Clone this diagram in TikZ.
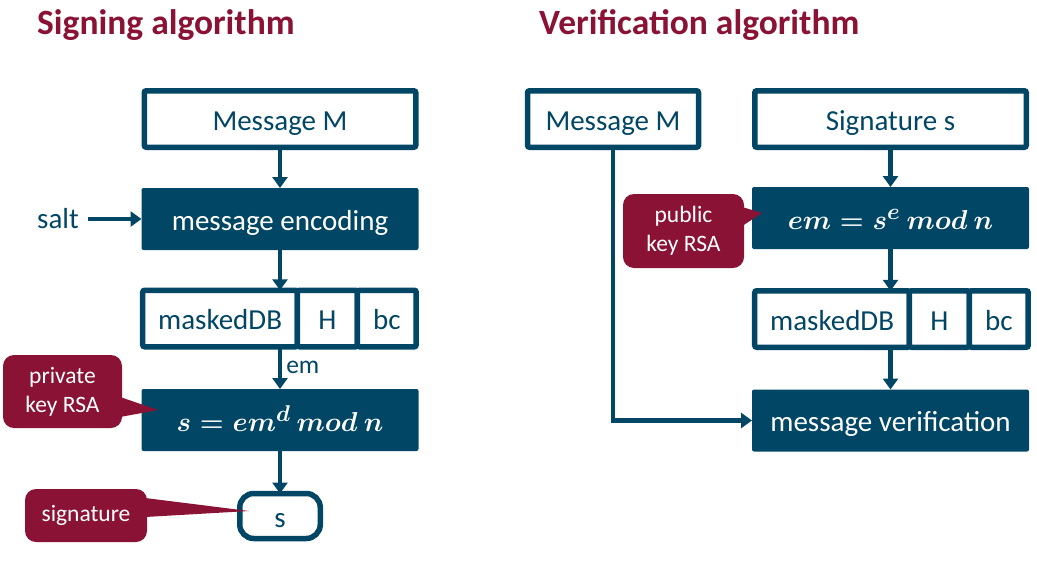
\documentclass[tikz,border=0pt]{standalone}
\usepackage{fontspec}
\setmainfont{Carlito}
\usetikzlibrary{arrows.meta,positioning}
\definecolor{rsablue}{RGB}{2,70,101}
\definecolor{rsared}{RGB}{138,19,53}
\newcommand{\rsamath}[1]{\scalebox{1.1}{\fontsize{24.88}{28}\selectfont\boldmath$#1$}}
\tikzset{
  box/.style={draw=rsablue, line width=5.5pt, fill=white, text=rsablue, rounded corners=2pt, inner sep=0pt, outer sep=0pt, minimum height=56.5pt, text height=25pt, text depth=2.5pt, font=\fontsize{29}{32}\selectfont},
  solidbox/.style={fill=rsablue, text=white, rounded corners=2pt, inner sep=0pt, outer sep=0pt, minimum height=62pt, minimum width=277pt, text height=25pt, text depth=2.5pt, font=\fontsize{29}{32}\selectfont},
  bubble/.style={fill=rsared, text=white, rounded corners=11pt, align=center, inner sep=0pt, font=\fontsize{23.5}{29}\selectfont},
  heading/.style={text=rsared, anchor=base west, inner sep=0pt, font=\fontsize{35.5}{42}\selectfont\bfseries},
  flow/.style={draw=rsablue, line width=4.5pt, -{Triangle[length=11pt,width=15pt]}}
}

\begin{document}
\begin{tikzpicture}[x=1pt, y=-1pt]
	\useasboundingbox (0,0) rectangle (1037,566);
	\node[heading] (titleL) at (37,34) {Signing algorithm};
	\node[heading] (titleR) at (539,34) {Verification algorithm};
	% signing
	\node[box, minimum width=271.5] (msgL) at (280,119) {Message M};
	\node[solidbox] (encL) at (280,219) {message encoding};
	\node[box, minimum width=154.75] (mdbL) at (220.1,318.5) {maskedDB};
	\node[box, minimum width=60, right=0pt of mdbL] (hL) {H};
	\node[box, minimum width=58.75, right=0pt of hL] (bcL) {bc};
	\node[solidbox] (signL) at (280,420) {\rsamath{s = em^{d}\ mod\ n}};
	\node[box, minimum width=80.5, minimum height=45, rounded corners=14pt] (sL) at (280,516) {s};
	\node[text=rsablue, font=\fontsize{29}{32}\selectfont] (salt) at (58,219) {salt};
	\draw[flow] (msgL) -- (encL);
	\draw[flow, shorten <=6pt] (salt) -- (encL);
	\draw[flow] (encL) -- (encL |- mdbL.north);
	\draw[flow] (encL |- mdbL.south) -- node[right, inner sep=4pt, text=rsablue, font=\fontsize{25.5}{28}\selectfont] (em) {em} (signL);
	\draw[flow] (signL) -- (sL);
	% verification
	\node[box, minimum width=171] (msgR) at (613,119) {Message M};
	\node[box, minimum width=271.5] (sigR) at (890.5,119) {Signature s};
	\node[solidbox] (emR) at (890.5,218) {\rsamath{em = s^{e}\ mod\ n}};
	\node[box, minimum width=154.75] (mdbR) at (832.1,319) {maskedDB};
	\node[box, minimum width=60, right=0pt of mdbR] (hR) {H};
	\node[box, minimum width=58.75, right=0pt of hR] (bcR) {bc};
	\node[solidbox] (verR) at (890.5,420.5) {message verification};
	\draw[flow] (sigR) -- (emR);
	\draw[flow] (emR) -- (emR |- mdbR.north);
	\draw[flow] (emR |- mdbR.south) -- (verR);
	\draw[flow] (msgR) |- (verR);
	% callouts
	\node[bubble, minimum width=119, minimum height=73] (privC) at (62.5,391.5) {private\\key RSA};
	\fill[rsared] ([xshift=-2pt]privC.east |- 0,397) -- (158,410) -- ([xshift=-2pt]privC.east |- 0,417) -- cycle;
	\node[bubble, minimum width=122, minimum height=53] (sigC) at (86,515.5) {signature};
	\fill[rsared] ([xshift=-2pt]sigC.east |- 0,498) -- (249,511) -- ([xshift=-2pt]sigC.east |- 0,517) -- cycle;
	\node[bubble, minimum width=121, minimum height=74] (pubC) at (683.5,231) {public\\key RSA};
	\fill[rsared] ([xshift=-2pt]pubC.east |- 0,207) -- (762,213) -- ([xshift=-2pt]pubC.east |- 0,226) -- cycle;
\end{tikzpicture}
\end{document}
